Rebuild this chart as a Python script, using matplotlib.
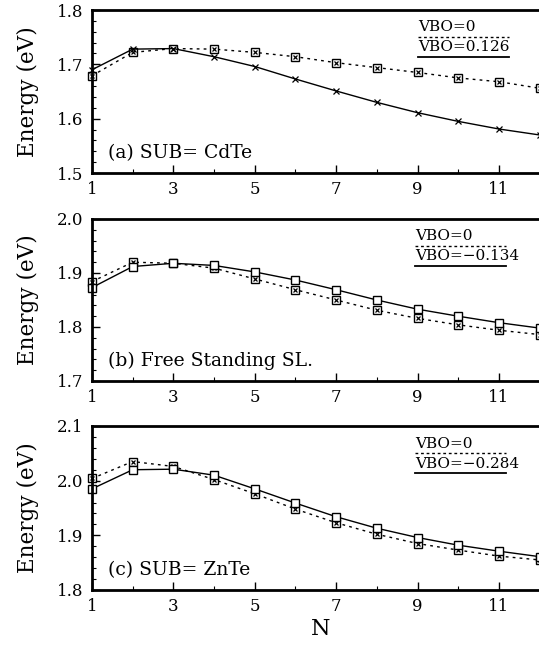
import matplotlib
matplotlib.use("Agg")
import matplotlib.pyplot as plt
from matplotlib.ticker import MultipleLocator

N = list(range(1, 13))

# (a) SUB= CdTe
a_vbo0 = [1.679, 1.722, 1.729, 1.728, 1.722, 1.714, 1.703, 1.694, 1.685, 1.675, 1.668, 1.656]
a_vbo1 = [1.690, 1.728, 1.729, 1.714, 1.696, 1.673, 1.651, 1.630, 1.611, 1.595, 1.581, 1.570]
# (b) Free Standing SL.
b_vbo0 = [1.884, 1.920, 1.918, 1.909, 1.889, 1.869, 1.850, 1.831, 1.816, 1.804, 1.794, 1.786]
b_vbo1 = [1.873, 1.912, 1.918, 1.914, 1.902, 1.887, 1.869, 1.850, 1.833, 1.820, 1.808, 1.798]
# (c) SUB= ZnTe
c_vbo0 = [2.004, 2.035, 2.026, 2.002, 1.976, 1.948, 1.923, 1.902, 1.885, 1.873, 1.862, 1.855]
c_vbo1 = [1.985, 2.020, 2.021, 2.010, 1.985, 1.959, 1.934, 1.913, 1.896, 1.882, 1.871, 1.861]

panels = [
    ("(a) SUB= CdTe", a_vbo0, a_vbo1, "VBO=0.126", (1.5, 1.8), "x"),
    ("(b) Free Standing SL.", b_vbo0, b_vbo1, "VBO=\u22120.134", (1.7, 2.0), "s"),
    ("(c) SUB= ZnTe", c_vbo0, c_vbo1, "VBO=\u22120.284", (1.8, 2.1), "s"),
]
yticks_all = [[1.5, 1.6, 1.7, 1.8], [1.7, 1.8, 1.9, 2.0], [1.8, 1.9, 2.0, 2.1]]
xticks = [1, 3, 5, 7, 9, 11]

plt.rcParams['font.family'] = ['DejaVu Serif']
W, H = 539, 647
fig = plt.figure(figsize=(W / 100, H / 100), dpi=100)

tops = [10, 219, 426]
bots = [173, 381, 590]
left = 92 / W
legx = [0.712, 0.705, 0.705]

for i, (label, y0, y1, vlab, ylim, mk) in enumerate(panels):
    ax = fig.add_axes([left, 1 - bots[i] / H, 1.02 - left, (bots[i] - tops[i]) / H])
    ax.plot(N, y0, color='black', lw=1.0, ls=(0, (2, 3)), marker='s', ms=5.5,
            mfc='white', mec='black', mew=1.0, clip_on=False)
    ax.plot(N, y0, ls='none', marker='x', ms=3.5, color='black', mew=0.9, clip_on=False)
    if mk == 'x':
        ax.plot(N, y1, color='black', lw=1.0, marker='x', ms=5, mew=0.9, clip_on=False)
    else:
        ax.plot(N, y1, color='black', lw=1.0, marker='s', ms=5.5, mfc='white',
                mec='black', mew=1.0, clip_on=False)
    ax.set_xlim(1, 12.25)
    ax.set_ylim(*ylim)
    ax.set_xticks(xticks)
    ax.set_yticks(yticks_all[i])
    ax.set_yticklabels([f"{v:.1f}" for v in yticks_all[i]])
    ax.xaxis.set_minor_locator(MultipleLocator(1))
    ax.yaxis.set_minor_locator(MultipleLocator(0.02))
    ax.tick_params(which='both', direction='in', labelsize=12, top=False, right=False)
    ax.tick_params(which='major', length=6, width=1.0, pad=6)
    ax.tick_params(which='minor', length=3, width=0.8)
    for s in ax.spines.values():
        s.set_linewidth(2.0)
    ax.set_ylabel("Energy (eV)", fontsize=15.5, labelpad=13)
    ax.text(0.035, 0.065, label, transform=ax.transAxes, fontsize=13.5, va='bottom', ha='left')
    # legend
    x0 = legx[i]
    ax.text(x0, 0.85, "VBO=0", transform=ax.transAxes, fontsize=11, ha='left', va='bottom')
    ax.plot([x0, x0 + 0.2], [0.834, 0.834], transform=ax.transAxes, color='black', lw=1.0,
            ls=(0, (2, 2)), clip_on=False)
    ax.text(x0, 0.727, vlab, transform=ax.transAxes, fontsize=11, ha='left', va='bottom')
    ax.plot([x0, x0 + 0.2], [0.712, 0.712], transform=ax.transAxes, color='black', lw=1.3,
            clip_on=False)
    if i == 2:
        ax.set_xlabel("N", fontsize=16, labelpad=2)

fig.savefig("out.png", dpi=100)
